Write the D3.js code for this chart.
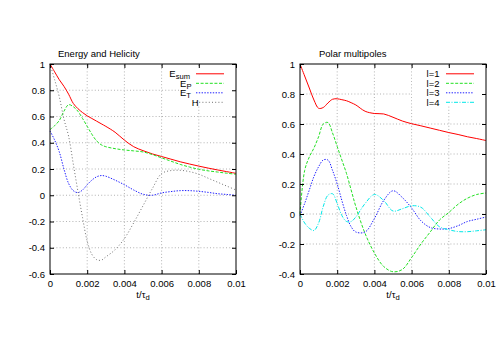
<!DOCTYPE html>
<html><head><meta charset="utf-8">
<script src="https://cdn.jsdelivr.net/npm/d3@7"></script>
<style>
html,body{margin:0;padding:0;background:#fff;}
svg{display:block;}
text{font-family:"Liberation Sans",Arial,Helvetica,sans-serif;}
</style></head>
<body>
<svg id="chart" width="500" height="350"></svg>
<script>
// ---- data ----
const time = [0,0.00025,0.0005,0.00075,0.001,0.00125,0.0015,0.00175,0.002,0.00225,0.0025,0.00275,0.003,
  0.0035,0.004,0.0045,0.005,0.0055,0.006,0.0065,0.007,0.0075,0.008,0.0085,0.009,0.0095,0.01];

const eSum = [1.0,0.94,0.88,0.83,0.77,0.70,0.66,0.63,0.605,0.585,0.565,0.545,0.525,
  0.48,0.42,0.37,0.34,0.315,0.295,0.275,0.255,0.238,0.222,0.207,0.193,0.18,0.167];
const eP = [0.50,0.53,0.57,0.64,0.69,0.675,0.64,0.585,0.525,0.465,0.415,0.385,0.37,
  0.355,0.345,0.338,0.33,0.31,0.285,0.26,0.235,0.215,0.198,0.186,0.177,0.168,0.16];
const eT = [0.49,0.42,0.33,0.20,0.09,0.035,0.02,0.04,0.08,0.115,0.14,0.15,0.145,
  0.115,0.08,0.04,0.008,0.0,0.018,0.028,0.035,0.035,0.03,0.022,0.012,0.006,0.0];
const hel = [1.0,0.88,0.75,0.58,0.45,0.24,0.03,-0.17,-0.35,-0.45,-0.49,-0.495,-0.47,
  -0.415,-0.33,-0.21,-0.08,0.05,0.165,0.188,0.19,0.18,0.16,0.13,0.1,0.07,0.04];

const l1 = [1.0,0.92,0.84,0.76,0.705,0.71,0.74,0.765,0.768,0.762,0.755,0.742,0.727,
  0.685,0.67,0.667,0.645,0.62,0.602,0.588,0.573,0.558,0.543,0.53,0.515,0.503,0.49];
const l2 = [0.0,0.29,0.38,0.44,0.515,0.60,0.61,0.54,0.45,0.36,0.27,0.16,0.05,
  -0.13,-0.26,-0.35,-0.385,-0.37,-0.29,-0.20,-0.12,-0.04,0.01,0.065,0.105,0.13,0.14];
const l3 = [-0.01,0.07,0.16,0.25,0.315,0.36,0.36,0.29,0.20,0.09,-0.01,-0.085,-0.12,
  -0.12,-0.03,0.09,0.155,0.11,0.04,-0.045,-0.09,-0.10,-0.097,-0.078,-0.05,-0.035,-0.02];
const l4 = [0.0,-0.06,-0.095,-0.11,-0.06,0.05,0.125,0.135,0.07,-0.01,-0.05,-0.05,-0.02,
  0.07,0.13,0.09,0.02,0.035,0.055,0.045,-0.02,-0.085,-0.105,-0.117,-0.118,-0.112,-0.105];

const xTicks = [0,0.002,0.004,0.006,0.008,0.01];
const xTickLabels = ["0","0.002","0.004","0.006","0.008","0.01"];
const yTicksLeft = [-0.6,-0.4,-0.2,0,0.2,0.4,0.6,0.8,1];
const yTickLabelsLeft = ["-0.6","-0.4","-0.2","0","0.2","0.4","0.6","0.8","1"];
const yTicksRight = [-0.4,-0.2,0,0.2,0.4,0.6,0.8,1];
const yTickLabelsRight = ["-0.4","-0.2","0","0.2","0.4","0.6","0.8","1"];

const titles = ["Energy and Helicity","Polar multipoles"];
const leftNames = [["E","sum"],["E","P"],["E","T"],["H",""]];
const rightNames = ["l=1","l=2","l=3","l=4"];

// ---- drawing ----
const svg = d3.select("#chart");
const FONT = 9.5;

function panel(cfg){
  const g = svg.append("g");
  const x = d3.scaleLinear().domain([0,0.01]).range([cfg.x0, cfg.x1]);
  const y = d3.scaleLinear().domain(cfg.yDomain).range([274, 64]);

  // grid
  const grid = g.append("g").attr("stroke","#a0a0a0").attr("stroke-width",0.8)
    .attr("stroke-dasharray","1,2.2").attr("fill","none");
  xTicks.slice(1,-1).forEach(t=>{
    grid.append("line").attr("x1",x(t)).attr("x2",x(t)).attr("y1",y.range()[0]).attr("y2",y.range()[1]);
  });
  cfg.yTicks.slice(1,-1).forEach(t=>{
    grid.append("line").attr("x1",cfg.x0).attr("x2",cfg.x1).attr("y1",y(t)).attr("y2",y(t));
  });

  // curves
  const line = d3.line().x((d,i)=>x(time[i])).y(d=>y(d)).curve(d3.curveCatmullRom.alpha(0.5));
  cfg.series.forEach(s=>{
    g.append("path").datum(s.values).attr("d",line).attr("fill","none")
      .attr("stroke",s.color).attr("stroke-width",s.width||1)
      .attr("stroke-dasharray",s.dash||null);
  });

  // key (opaque)
  g.append("rect").attr("x",cfg.keyBox[0]).attr("y",cfg.keyBox[1])
    .attr("width",cfg.keyBox[2]).attr("height",cfg.keyBox[3]).attr("fill","#fff");
  cfg.series.forEach((s,i)=>{
    const ry = 73.8 + i*9.5;
    g.append("line").attr("x1",cfg.keyLine[0]).attr("x2",cfg.keyLine[1])
      .attr("y1",ry).attr("y2",ry).attr("stroke",s.color).attr("stroke-width",s.width||1)
      .attr("stroke-dasharray",s.dash||null);
    const tx = g.append("text").attr("x",s.labelX).attr("y",ry+3.2)
      .attr("text-anchor","end").attr("font-size",FONT).attr("fill","#000");
    if (Array.isArray(s.label)) {
      tx.append("tspan").text(s.label[0]);
      if (s.label[1]) tx.append("tspan").attr("font-size",FONT*0.8).attr("dy",2.4).text(s.label[1]);
    } else tx.text(s.label);
  });

  // axes: ticks inside, mirrored
  const ax = g.append("g");
  const xb = d3.axisBottom(x).tickValues(xTicks).tickFormat((d,i)=>xTickLabels[i]).tickSizeInner(-4).tickSizeOuter(0).tickPadding(6.5);
  const xt = d3.axisTop(x).tickValues(xTicks).tickFormat("").tickSizeInner(-4).tickSizeOuter(0);
  const yl = d3.axisLeft(y).tickValues(cfg.yTicks).tickFormat((d,i)=>cfg.yLabels[i]).tickSizeInner(-4).tickSizeOuter(0).tickPadding(5);
  const yr = d3.axisRight(y).tickValues(cfg.yTicks).tickFormat("").tickSizeInner(-4).tickSizeOuter(0);
  ax.append("g").attr("transform","translate(0,274)").call(xb);
  ax.append("g").attr("transform","translate(0,64)").call(xt);
  ax.append("g").attr("transform",`translate(${cfg.x0},0)`).call(yl);
  ax.append("g").attr("transform",`translate(${cfg.x1},0)`).call(yr);
  ax.selectAll(".domain").remove();
  ax.selectAll(".tick line").attr("stroke","#000").attr("stroke-width",1);
  ax.selectAll("text").attr("font-size",FONT).attr("fill","#000")
    .attr("font-family","Liberation Sans, Arial, sans-serif");
  g.append("rect").attr("x",cfg.x0).attr("y",64).attr("width",cfg.x1-cfg.x0).attr("height",210)
    .attr("fill","none").attr("stroke","#000").attr("stroke-width",1);

  // title
  g.append("text").attr("x",cfg.titleX).attr("y",56.7).attr("font-size",FONT).text(cfg.title);
  // x label
  const xl = g.append("text").attr("x",(cfg.x0+cfg.x1)/2).attr("y",297.5).attr("text-anchor","middle").attr("font-size",FONT);
  xl.append("tspan").text("t/τ");
  xl.append("tspan").attr("font-size",FONT*0.8).attr("dy",2.8).text("d");
}

panel({
  x0:50, x1:236, yDomain:[-0.6,1], yTicks:yTicksLeft, yLabels:yTickLabelsLeft,
  title:titles[0], titleX:58,
  keyBox:[180,66,55,40], keyLine:[196,224],
  series:[
    {values:eSum,color:"#ff0000",label:leftNames[0],labelX:190},
    {values:eP,color:"#22e022",dash:"3,1.6",label:leftNames[1],labelX:191.5},
    {values:eT,color:"#2020ff",dash:"1.4,1.4",label:leftNames[2],labelX:191},
    {values:hel,color:"#707070",dash:"1,2.2",label:leftNames[3],labelX:198.5}
  ]
});
panel({
  x0:300, x1:486, yDomain:[-0.4,1], yTicks:yTicksRight, yLabels:yTickLabelsRight,
  title:titles[1], titleX:319,
  keyBox:[412,66,73,40], keyLine:[446,474],
  series:[
    {values:l1,color:"#ff0000",label:rightNames[0],labelX:439.5},
    {values:l2,color:"#22e022",dash:"3,1.6",label:rightNames[1],labelX:439.5},
    {values:l3,color:"#2020ff",dash:"1.4,1.4",label:rightNames[2],labelX:439.5},
    {values:l4,color:"#00e8e8",dash:"4,1.5,1,1.5",label:rightNames[3],labelX:439.5}
  ]
});
</script>
</body></html>
